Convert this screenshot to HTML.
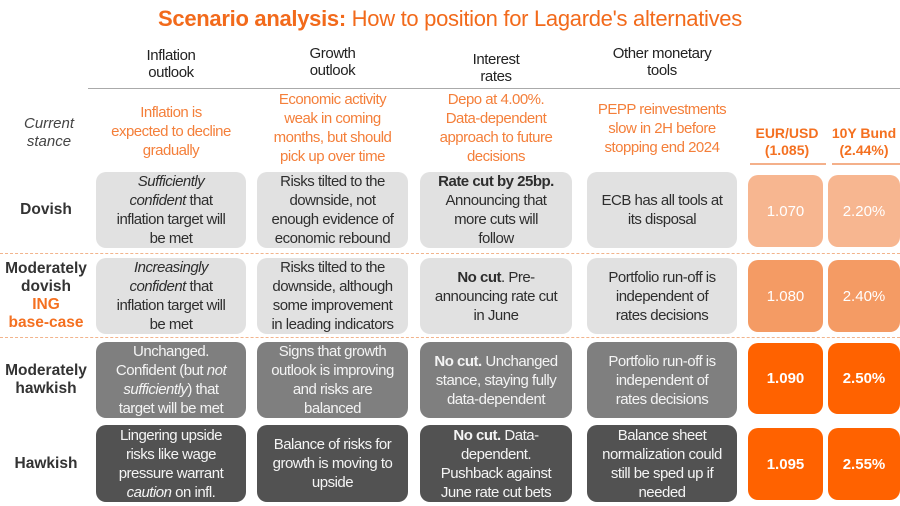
<!DOCTYPE html>
<html><head><meta charset="utf-8"><style>
*{margin:0;padding:0;box-sizing:border-box}
body{width:900px;height:506px;background:#fff;font-family:"Liberation Sans",sans-serif;position:relative;overflow:hidden;color:#333}
.a{position:absolute;display:flex;align-items:center;justify-content:center;text-align:center}
.t{font-size:15px;line-height:19px;letter-spacing:-0.5px}
.b{border-radius:10px}
.l{background:#e1e1e1;color:#2e2e2e}
.m{background:#7f7f7f;color:#f4f4f4}
.d{background:#525252;color:#f4f4f4}
.o1{background:#f7b690;color:#fff}
.o2{background:#f49b64;color:#fff}
.o3{background:#ff6200;color:#fff;font-weight:bold}
.or{color:#f47f3a}
.h{font-size:15px;line-height:17px;color:#222;letter-spacing:-0.4px}
.rl{font-weight:bold;font-size:15.5px;line-height:18px;color:#333}
.dash{position:absolute;left:0;width:900px;border-top:1.5px dashed #f2b48c}
.num{font-size:15px}
</style></head><body>
<div class="a" style="left:0;top:4px;width:900px;height:30px;font-size:22px;color:#f26a1b;letter-spacing:-0.3px"><span><b>Scenario analysis:</b> How to position for Lagarde's alternatives</span></div>

<div class="a h" style="left:96px;top:46px;width:150px;height:36px">Inflation<br>outlook</div>
<div class="a h" style="left:257px;top:44px;width:151px;height:36px">Growth<br>outlook</div>
<div class="a h" style="left:420px;top:50px;width:152px;height:36px">Interest<br>rates</div>
<div class="a h" style="left:587px;top:44px;width:150px;height:36px">Other monetary<br>tools</div>
<div style="position:absolute;left:88px;top:88px;width:812px;border-top:1.5px solid #aaa"></div>

<div class="a" style="left:10px;top:113px;width:78px;height:40px;font-style:italic;font-size:15px;line-height:18px;color:#444">Current<br>stance</div>
<div class="a t or" style="left:96px;top:100px;width:150px;height:62px">Inflation is<br>expected to decline<br>gradually</div>
<div class="a t or" style="left:257px;top:90px;width:151px;height:75px">Economic activity<br>weak in coming<br>months, but should<br>pick up over time</div>
<div class="a t or" style="left:420px;top:90px;width:152px;height:75px">Depo at 4.00%.<br>Data-dependent<br>approach to future<br>decisions</div>
<div class="a t or" style="left:587px;top:98px;width:150px;height:60px">PEPP reinvestments<br>slow in 2H before<br>stopping end 2024</div>
<div class="a or" style="left:748px;top:124px;width:78px;height:36px;font-weight:bold;font-size:14px;line-height:17px;color:#f47020">EUR/USD<br>(1.085)</div>
<div class="a or" style="left:828px;top:124px;width:72px;height:36px;font-weight:bold;font-size:14px;line-height:17px;color:#f47020">10Y Bund<br>(2.44%)</div>
<div style="position:absolute;left:750px;top:163px;width:76px;border-top:2px solid #f4b08a"></div>
<div style="position:absolute;left:832px;top:163px;width:68px;border-top:2px solid #f4b08a"></div>

<div class="a rl" style="left:0;top:172px;width:92px;height:76px">Dovish</div>
<div class="a t b l" style="left:96px;top:172px;width:150px;height:76px"><span><i>Sufficiently<br>confident</i> that<br>inflation target will<br>be met</span></div>
<div class="a t b l" style="left:257px;top:172px;width:151px;height:76px">Risks tilted to the<br>downside, not<br>enough evidence of<br>economic rebound</div>
<div class="a t b l" style="left:420px;top:172px;width:152px;height:76px"><span><b>Rate cut by 25bp.</b><br>Announcing that<br>more cuts will<br>follow</span></div>
<div class="a t b l" style="left:587px;top:172px;width:150px;height:76px">ECB has all tools at<br>its disposal</div>
<div class="a b o1 num" style="left:748px;top:175px;width:75px;height:72px">1.070</div>
<div class="a b o1 num" style="left:828px;top:175px;width:72px;height:72px">2.20%</div>
<div class="dash" style="top:253px"></div>

<div class="a rl" style="left:0;top:258px;width:92px;height:76px"><span>Moderately<br>dovish<br><span style="color:#f47020">ING<br>base-case</span></span></div>
<div class="a t b l" style="left:96px;top:258px;width:150px;height:76px"><span><i>Increasingly<br>confident</i> that<br>inflation target will<br>be met</span></div>
<div class="a t b l" style="left:257px;top:258px;width:151px;height:76px">Risks tilted to the<br>downside, although<br>some improvement<br>in leading indicators</div>
<div class="a t b l" style="left:420px;top:258px;width:152px;height:76px"><span><b>No cut</b>. Pre-<br>announcing rate cut<br>in June</span></div>
<div class="a t b l" style="left:587px;top:258px;width:150px;height:76px">Portfolio run-off is<br>independent of<br>rates decisions</div>
<div class="a b o2 num" style="left:748px;top:260px;width:75px;height:72px">1.080</div>
<div class="a b o2 num" style="left:828px;top:260px;width:72px;height:72px">2.40%</div>
<div class="dash" style="top:337px"></div>

<div class="a rl" style="left:0;top:342px;width:92px;height:76px;align-items:flex-start;padding-top:20px">Moderately<br>hawkish</div>
<div class="a t b m" style="left:96px;top:342px;width:150px;height:76px"><span>Unchanged.<br>Confident (but <i>not<br>sufficiently</i>) that<br>target will be met</span></div>
<div class="a t b m" style="left:257px;top:342px;width:151px;height:76px">Signs that growth<br>outlook is improving<br>and risks are<br>balanced</div>
<div class="a t b m" style="left:420px;top:342px;width:152px;height:76px"><span><b>No cut.</b> Unchanged<br>stance, staying fully<br>data-dependent</span></div>
<div class="a t b m" style="left:587px;top:342px;width:150px;height:76px">Portfolio run-off is<br>independent of<br>rates decisions</div>
<div class="a b o3 num" style="left:748px;top:343px;width:75px;height:71px">1.090</div>
<div class="a b o3 num" style="left:828px;top:343px;width:72px;height:71px">2.50%</div>

<div class="a rl" style="left:0;top:426px;width:92px;height:76px">Hawkish</div>
<div class="a t b d" style="left:96px;top:425px;width:150px;height:77px"><span>Lingering upside<br>risks like wage<br>pressure warrant<br><i>caution</i> on infl.</span></div>
<div class="a t b d" style="left:257px;top:425px;width:151px;height:77px">Balance of risks for<br>growth is moving to<br>upside</div>
<div class="a t b d" style="left:420px;top:425px;width:152px;height:77px"><span><b>No cut.</b> Data-<br>dependent.<br>Pushback against<br>June rate cut bets</span></div>
<div class="a t b d" style="left:587px;top:425px;width:150px;height:77px">Balance sheet<br>normalization could<br>still be sped up if<br>needed</div>
<div class="a b o3 num" style="left:748px;top:428px;width:75px;height:72px">1.095</div>
<div class="a b o3 num" style="left:828px;top:428px;width:72px;height:72px">2.55%</div>
</body></html>
